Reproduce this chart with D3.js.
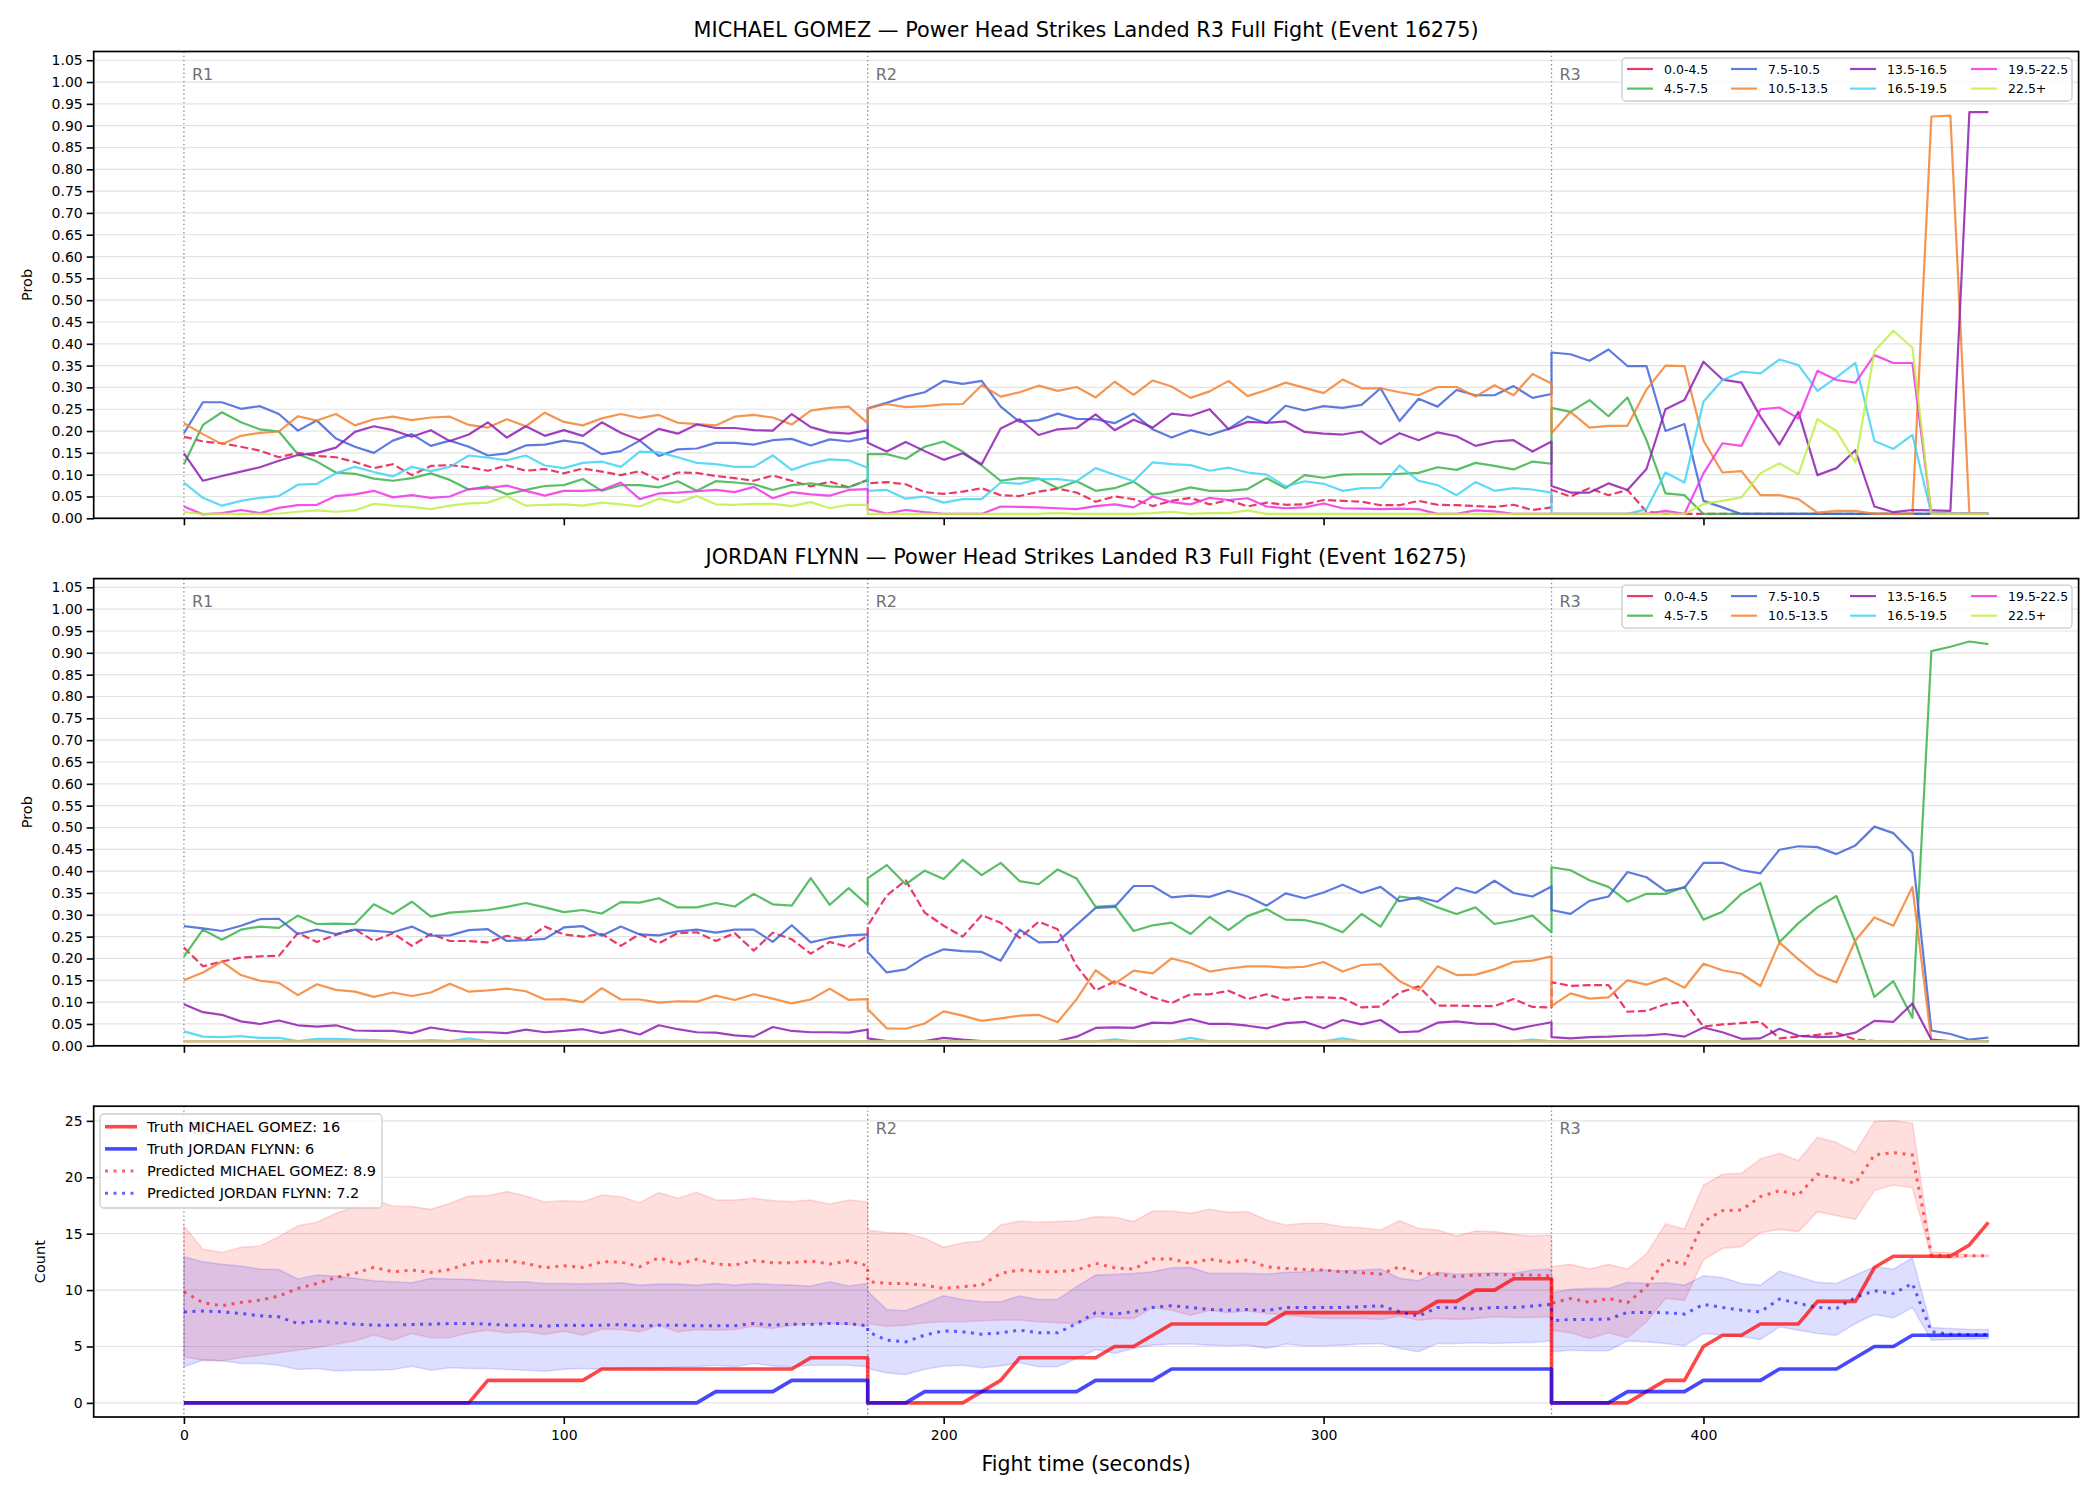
<!DOCTYPE html>
<html><head><meta charset="utf-8">
<script src="https://cdn.jsdelivr.net/npm/d3@7"></script>
<style>body{margin:0;background:#fff} svg{display:block} text{font-family:"DejaVu Sans",sans-serif}</style>
</head><body><svg id="c" width="2100" height="1500"></svg>
<script>
// ---------------- DATA ----------------
const times = [0,5,10,15,20,25,30,35,40,45,50,55,60,65,70,75,80,85,90,95,100,105,110,115,120,125,130,135,140,145,150,155,160,165,170,175,180,
180,185,190,195,200,205,210,215,220,225,230,235,240,245,250,255,260,265,270,275,280,285,290,295,300,305,310,315,320,325,330,335,340,345,350,355,360,
360,365,370,375,380,385,390,395,400,405,410,415,420,425,430,435,440,445,450,455,460,465,470,475];
const roundStarts = [0,180,360];
const roundLabels = ["R1","R2","R3"];
const binLabels = ["0.0-4.5","4.5-7.5","7.5-10.5","10.5-13.5","13.5-16.5","16.5-19.5","19.5-22.5","22.5+"];
const binColors = ["#e6194b","#3cb44b","#4363d8","#f58231","#911eb4","#42d4f4","#f032e6","#bfef45"];
const probTicks = [0,0.05,0.10,0.15,0.20,0.25,0.30,0.35,0.40,0.45,0.50,0.55,0.60,0.65,0.70,0.75,0.80,0.85,0.90,0.95,1.00,1.05];
const countTicks = [0,5,10,15,20,25];
const timeTicks = [0,100,200,300,400];

// MICHAEL GOMEZ bin probabilities
const gomez_0_4_5 = [0.187,0.176,0.172,0.164,0.155,0.140,0.150,0.143,0.140,0.129,0.115,0.124,0.099,0.120,0.122,0.117,0.109,0.121,0.109,0.113,0.103,0.114,0.107,0.099,0.108,0.088,0.105,0.104,0.097,0.092,0.086,0.098,0.086,0.073,0.084,0.071,0.088,
0.080,0.083,0.078,0.060,0.056,0.061,0.069,0.053,0.051,0.061,0.068,0.059,0.038,0.050,0.044,0.028,0.040,0.047,0.032,0.042,0.027,0.036,0.031,0.032,0.042,0.040,0.038,0.030,0.030,0.040,0.031,0.030,0.028,0.026,0.031,0.019,0.025,
0.065,0.050,0.069,0.053,0.065,0.015,0.010,0.010,0.010,0.010,0.010,0.010,0.010,0.010,0.010,0.010,0.010,0.010,0.010,0.010,0.010,0.010,0.010,0.010];
const gomez_4_5_7_5 = [0.124,0.214,0.243,0.220,0.204,0.199,0.147,0.130,0.105,0.102,0.091,0.086,0.092,0.103,0.088,0.066,0.073,0.055,0.065,0.074,0.076,0.090,0.063,0.076,0.076,0.071,0.085,0.063,0.085,0.082,0.078,0.065,0.076,0.080,0.073,0.071,0.088,
0.147,0.147,0.136,0.164,0.176,0.153,0.121,0.086,0.092,0.091,0.069,0.085,0.063,0.069,0.084,0.054,0.060,0.071,0.063,0.063,0.067,0.092,0.069,0.099,0.093,0.100,0.101,0.101,0.102,0.104,0.117,0.111,0.127,0.120,0.112,0.130,0.125,
0.253,0.244,0.271,0.234,0.277,0.179,0.057,0.053,0.010,0.010,0.010,0.010,0.010,0.010,0.010,0.010,0.010,0.010,0.010,0.010,0.010,0.010,0.010,0.010];
const gomez_7_5_10_5 = [0.195,0.266,0.266,0.251,0.257,0.239,0.201,0.224,0.183,0.164,0.150,0.178,0.193,0.166,0.178,0.164,0.144,0.149,0.167,0.169,0.178,0.172,0.147,0.154,0.178,0.143,0.158,0.160,0.173,0.173,0.169,0.179,0.182,0.167,0.181,0.176,0.185,
0.252,0.265,0.279,0.289,0.315,0.308,0.315,0.256,0.221,0.225,0.240,0.228,0.227,0.218,0.240,0.204,0.185,0.202,0.191,0.205,0.233,0.218,0.258,0.247,0.257,0.253,0.260,0.298,0.223,0.274,0.256,0.294,0.282,0.282,0.303,0.276,0.285,
0.380,0.376,0.361,0.387,0.349,0.349,0.200,0.216,0.040,0.025,0.010,0.010,0.010,0.010,0.010,0.010,0.010,0.010,0.010,0.010,0.010,0.010,0.010,0.010];
const gomez_10_5_13_5 = [0.218,0.193,0.170,0.189,0.196,0.199,0.234,0.224,0.239,0.213,0.227,0.233,0.225,0.231,0.233,0.214,0.208,0.227,0.211,0.242,0.221,0.213,0.229,0.239,0.230,0.237,0.219,0.216,0.213,0.233,0.237,0.231,0.215,0.247,0.253,0.256,0.218,
0.252,0.262,0.255,0.257,0.261,0.262,0.305,0.279,0.289,0.304,0.292,0.301,0.277,0.313,0.283,0.316,0.302,0.276,0.291,0.315,0.280,0.294,0.311,0.299,0.287,0.318,0.298,0.298,0.289,0.282,0.301,0.301,0.279,0.305,0.282,0.331,0.309,
0.195,0.244,0.208,0.212,0.212,0.295,0.350,0.349,0.178,0.105,0.108,0.053,0.053,0.044,0.013,0.017,0.017,0.010,0.010,0.010,0.921,0.923,0.010,0.010];
const gomez_13_5_16_5 = [0.149,0.086,0.097,0.107,0.117,0.132,0.145,0.150,0.162,0.198,0.211,0.202,0.187,0.202,0.177,0.192,0.220,0.185,0.211,0.189,0.202,0.189,0.220,0.196,0.179,0.205,0.194,0.215,0.207,0.207,0.202,0.201,0.239,0.209,0.197,0.194,0.202,
0.173,0.153,0.175,0.154,0.134,0.149,0.124,0.206,0.227,0.191,0.204,0.207,0.238,0.202,0.226,0.208,0.240,0.235,0.250,0.204,0.221,0.219,0.222,0.198,0.194,0.192,0.199,0.170,0.195,0.179,0.197,0.188,0.166,0.176,0.179,0.153,0.176,
0.074,0.059,0.059,0.080,0.065,0.113,0.250,0.271,0.359,0.318,0.311,0.233,0.169,0.244,0.099,0.115,0.156,0.027,0.014,0.019,0.018,0.017,0.931,0.931];
const gomez_16_5_19_5 = [0.082,0.047,0.029,0.040,0.047,0.051,0.077,0.079,0.103,0.118,0.106,0.096,0.118,0.108,0.118,0.144,0.139,0.133,0.144,0.121,0.115,0.127,0.130,0.118,0.153,0.151,0.140,0.127,0.124,0.118,0.118,0.144,0.111,0.126,0.135,0.133,0.116,
0.063,0.065,0.045,0.050,0.036,0.044,0.044,0.082,0.079,0.090,0.090,0.085,0.115,0.100,0.085,0.128,0.124,0.122,0.109,0.116,0.105,0.100,0.073,0.085,0.079,0.063,0.069,0.070,0.121,0.086,0.076,0.053,0.083,0.063,0.069,0.066,0.059,
0.010,0.010,0.010,0.010,0.010,0.021,0.105,0.082,0.267,0.317,0.336,0.332,0.364,0.351,0.292,0.323,0.356,0.177,0.159,0.191,0.010,0.010,0.010,0.010];
const gomez_19_5_22_5 = [0.027,0.009,0.012,0.019,0.012,0.024,0.030,0.031,0.051,0.055,0.063,0.048,0.053,0.047,0.050,0.067,0.069,0.075,0.063,0.052,0.063,0.063,0.065,0.082,0.044,0.057,0.059,0.062,0.065,0.060,0.072,0.046,0.060,0.055,0.052,0.065,0.067,
0.021,0.011,0.019,0.014,0.010,0.010,0.010,0.027,0.026,0.025,0.023,0.021,0.028,0.032,0.025,0.050,0.037,0.032,0.047,0.042,0.046,0.027,0.023,0.025,0.034,0.023,0.022,0.021,0.022,0.021,0.010,0.010,0.018,0.016,0.010,0.010,0.010,
0.010,0.010,0.010,0.010,0.010,0.010,0.017,0.010,0.103,0.172,0.166,0.250,0.254,0.229,0.338,0.317,0.311,0.374,0.356,0.356,0.010,0.010,0.010,0.010];
const gomez_22_5_plus = [0.014,0.010,0.010,0.010,0.010,0.011,0.015,0.018,0.015,0.018,0.033,0.029,0.026,0.021,0.029,0.034,0.036,0.051,0.029,0.031,0.032,0.029,0.036,0.032,0.027,0.045,0.036,0.051,0.032,0.031,0.033,0.033,0.028,0.037,0.023,0.031,0.031,
0.010,0.010,0.010,0.010,0.010,0.010,0.010,0.010,0.010,0.010,0.012,0.010,0.010,0.010,0.010,0.012,0.015,0.010,0.012,0.012,0.018,0.010,0.010,0.010,0.010,0.010,0.010,0.010,0.010,0.010,0.010,0.010,0.010,0.010,0.010,0.010,0.010,
0.010,0.010,0.010,0.010,0.010,0.010,0.010,0.010,0.033,0.040,0.048,0.103,0.126,0.101,0.227,0.200,0.128,0.383,0.430,0.391,0.010,0.010,0.010,0.010];

// JORDAN FLYNN bin probabilities
const flynn_0_4_5 = [0.225,0.182,0.193,0.202,0.205,0.206,0.258,0.238,0.254,0.267,0.240,0.258,0.229,0.256,0.240,0.240,0.237,0.252,0.243,0.273,0.255,0.250,0.256,0.229,0.256,0.235,0.258,0.260,0.240,0.258,0.218,0.259,0.244,0.211,0.238,0.226,0.252,
0.275,0.344,0.379,0.305,0.275,0.250,0.299,0.282,0.247,0.284,0.267,0.183,0.127,0.147,0.130,0.111,0.098,0.118,0.118,0.126,0.107,0.118,0.105,0.111,0.111,0.109,0.088,0.090,0.122,0.136,0.092,0.092,0.091,0.091,0.107,0.089,0.088,
0.146,0.137,0.139,0.139,0.078,0.080,0.095,0.101,0.044,0.049,0.052,0.055,0.017,0.021,0.025,0.030,0.014,0.011,0.011,0.011,0.011,0.011,0.011,0.011];
const flynn_4_5_7_5 = [0.204,0.266,0.243,0.266,0.273,0.270,0.298,0.279,0.280,0.279,0.324,0.302,0.330,0.296,0.305,0.308,0.311,0.318,0.327,0.317,0.306,0.311,0.303,0.329,0.328,0.338,0.317,0.317,0.327,0.319,0.348,0.324,0.321,0.384,0.323,0.361,0.322,
0.384,0.414,0.370,0.401,0.382,0.426,0.391,0.419,0.377,0.370,0.404,0.383,0.318,0.321,0.263,0.276,0.282,0.256,0.295,0.265,0.297,0.313,0.289,0.288,0.278,0.260,0.302,0.273,0.342,0.336,0.317,0.302,0.317,0.279,0.287,0.298,0.260,
0.409,0.402,0.379,0.364,0.330,0.348,0.348,0.364,0.289,0.307,0.348,0.373,0.237,0.281,0.317,0.343,0.237,0.112,0.148,0.064,0.904,0.914,0.926,0.920];
const flynn_7_5_10_5 = [0.274,0.269,0.263,0.275,0.290,0.291,0.256,0.266,0.256,0.266,0.263,0.260,0.273,0.252,0.253,0.265,0.267,0.240,0.242,0.245,0.271,0.274,0.252,0.273,0.255,0.253,0.262,0.266,0.259,0.266,0.266,0.238,0.276,0.237,0.247,0.253,0.255,
0.215,0.168,0.175,0.203,0.221,0.217,0.215,0.195,0.266,0.237,0.238,0.277,0.316,0.318,0.366,0.366,0.340,0.344,0.341,0.355,0.342,0.321,0.349,0.338,0.351,0.369,0.350,0.364,0.331,0.340,0.330,0.362,0.350,0.378,0.350,0.342,0.365,
0.311,0.302,0.332,0.342,0.398,0.386,0.355,0.362,0.419,0.419,0.402,0.395,0.449,0.457,0.455,0.439,0.459,0.502,0.487,0.442,0.035,0.027,0.014,0.019];
const flynn_10_5_13_5 = [0.150,0.168,0.193,0.162,0.149,0.144,0.116,0.141,0.128,0.124,0.112,0.122,0.114,0.122,0.142,0.124,0.127,0.131,0.125,0.106,0.107,0.100,0.132,0.106,0.106,0.099,0.102,0.101,0.115,0.105,0.118,0.108,0.097,0.106,0.131,0.105,0.107,
0.084,0.040,0.039,0.051,0.079,0.069,0.057,0.063,0.069,0.071,0.054,0.107,0.173,0.142,0.172,0.166,0.200,0.189,0.170,0.177,0.182,0.182,0.179,0.181,0.192,0.170,0.185,0.187,0.148,0.127,0.182,0.162,0.163,0.175,0.192,0.195,0.205,
0.091,0.120,0.108,0.111,0.150,0.140,0.155,0.133,0.188,0.173,0.165,0.137,0.237,0.198,0.163,0.145,0.241,0.294,0.275,0.364,0.011,0.011,0.011,0.011];
const flynn_13_5_16_5 = [0.095,0.077,0.071,0.056,0.050,0.058,0.047,0.044,0.047,0.035,0.034,0.034,0.029,0.042,0.035,0.031,0.031,0.029,0.037,0.031,0.034,0.038,0.029,0.037,0.026,0.047,0.038,0.031,0.030,0.024,0.021,0.043,0.034,0.031,0.031,0.030,0.037,
0.017,0.011,0.011,0.011,0.018,0.014,0.011,0.011,0.011,0.011,0.011,0.021,0.041,0.042,0.041,0.053,0.052,0.061,0.050,0.050,0.046,0.040,0.052,0.055,0.040,0.059,0.049,0.059,0.031,0.033,0.053,0.056,0.051,0.050,0.037,0.046,0.054,
0.020,0.017,0.020,0.021,0.023,0.024,0.027,0.021,0.042,0.031,0.016,0.017,0.039,0.023,0.020,0.021,0.030,0.057,0.055,0.097,0.014,0.011,0.011,0.011];
const flynn_16_5_19_5 = [0.033,0.021,0.020,0.022,0.018,0.018,0.011,0.016,0.016,0.014,0.013,0.011,0.011,0.013,0.011,0.017,0.010,0.010,0.010,0.010,0.010,0.010,0.010,0.010,0.010,0.010,0.010,0.010,0.010,0.010,0.010,0.010,0.010,0.010,0.010,0.010,0.010,
0.010,0.010,0.010,0.010,0.010,0.010,0.010,0.010,0.010,0.010,0.010,0.010,0.010,0.015,0.010,0.010,0.010,0.018,0.010,0.010,0.010,0.010,0.010,0.010,0.010,0.017,0.010,0.010,0.010,0.010,0.010,0.010,0.010,0.010,0.010,0.014,0.010,
0.010,0.010,0.010,0.010,0.010,0.010,0.010,0.010,0.010,0.010,0.010,0.010,0.010,0.010,0.010,0.010,0.010,0.010,0.010,0.010,0.010,0.010,0.010,0.010];
const flynn_19_5_22_5 = [0.010,0.010,0.010,0.010,0.010,0.010,0.010,0.010,0.010,0.010,0.010,0.010,0.010,0.010,0.010,0.010,0.010,0.010,0.010,0.010,0.010,0.010,0.010,0.010,0.010,0.010,0.010,0.010,0.010,0.010,0.010,0.010,0.010,0.010,0.010,0.010,0.010,
0.010,0.010,0.010,0.010,0.010,0.010,0.010,0.010,0.010,0.010,0.010,0.010,0.010,0.010,0.010,0.010,0.010,0.010,0.010,0.010,0.010,0.010,0.010,0.010,0.010,0.010,0.010,0.010,0.010,0.010,0.010,0.010,0.010,0.010,0.010,0.010,0.010,
0.010,0.010,0.010,0.010,0.010,0.010,0.010,0.010,0.010,0.010,0.010,0.010,0.010,0.010,0.010,0.010,0.010,0.010,0.010,0.010,0.010,0.010,0.010,0.010];
const flynn_22_5_plus = [0.010,0.010,0.010,0.010,0.010,0.010,0.010,0.010,0.010,0.010,0.010,0.010,0.010,0.010,0.010,0.010,0.010,0.010,0.010,0.010,0.010,0.010,0.010,0.010,0.010,0.010,0.010,0.010,0.010,0.010,0.010,0.010,0.010,0.010,0.010,0.010,0.010,
0.010,0.010,0.010,0.010,0.010,0.010,0.010,0.010,0.010,0.010,0.010,0.010,0.010,0.010,0.010,0.010,0.010,0.010,0.010,0.010,0.010,0.010,0.010,0.010,0.010,0.010,0.010,0.010,0.010,0.010,0.010,0.010,0.010,0.010,0.010,0.010,0.010,
0.010,0.010,0.010,0.010,0.010,0.010,0.010,0.010,0.010,0.010,0.010,0.010,0.010,0.010,0.010,0.010,0.010,0.010,0.010,0.010,0.010,0.010,0.010,0.010];

// Counts
const truthGomez = [0,0,0,0,0,0,0,0,0,0,0,0,0,0,0,0,2,2,2,2,2,2,3,3,3,3,3,3,3,3,3,3,3,4,4,4,4,
0,0,0,0,0,0,1,2,4,4,4,4,4,5,5,6,7,7,7,7,7,7,8,8,8,8,8,8,8,8,9,9,10,10,11,11,11,
0,0,0,0,0,1,2,2,5,6,6,7,7,7,9,9,9,12,13,13,13,13,14,16];
const truthFlynn = [0,0,0,0,0,0,0,0,0,0,0,0,0,0,0,0,0,0,0,0,0,0,0,0,0,0,0,0,1,1,1,1,2,2,2,2,2,
0,0,0,1,1,1,1,1,1,1,1,1,2,2,2,2,3,3,3,3,3,3,3,3,3,3,3,3,3,3,3,3,3,3,3,3,3,
0,0,0,0,1,1,1,1,2,2,2,2,3,3,3,3,4,5,5,6,6,6,6,6];
const predGomez = [9.85,8.88,8.61,8.91,9.11,9.47,10.15,10.59,11.12,11.48,12.01,11.63,11.78,11.57,11.83,12.37,12.57,12.60,12.37,11.98,12.16,12.01,12.51,12.49,12.07,12.87,12.31,12.72,12.31,12.22,12.60,12.43,12.43,12.57,12.31,12.60,12.16,
10.74,10.59,10.59,10.44,10.15,10.30,10.44,11.48,11.78,11.63,11.63,11.78,12.37,11.98,11.86,12.75,12.75,12.37,12.75,12.46,12.66,12.07,11.92,11.83,11.78,11.63,11.54,11.42,12.07,11.48,11.42,11.18,11.33,11.39,11.33,11.33,11.27,
8.82,9.26,8.91,9.26,8.88,10.30,12.66,12.31,16.07,17.04,17.10,18.28,18.82,18.43,20.27,19.91,19.47,21.98,22.19,21.98,13.11,13.05,13.05,13.05];
const predGomezHigh = [15.68,13.61,13.34,13.79,13.91,14.73,15.71,16.01,16.80,17.40,17.99,17.46,17.40,17.16,17.69,18.34,18.37,18.73,18.34,17.81,17.93,17.84,18.43,18.28,17.75,18.64,18.14,18.67,17.99,17.99,18.14,17.93,17.84,17.99,17.63,17.99,17.81,
15.33,15.09,15.03,14.59,13.79,14.20,14.35,15.77,16.12,16.01,16.07,16.15,16.51,16.45,16.07,17.01,17.01,16.80,17.16,16.89,16.95,16.21,15.77,15.92,15.92,15.62,15.53,15.33,16.15,15.47,15.33,14.79,15.24,15.18,14.94,14.79,14.88,
12.07,12.28,11.86,12.28,11.86,13.20,15.86,15.41,19.32,20.27,20.36,21.63,22.13,21.48,23.55,23.08,22.22,24.94,25.03,24.79,13.40,13.31,13.11,13.11];
const predGomezLow = [4.08,3.79,3.73,4.02,4.23,4.44,4.67,4.91,5.21,5.50,6.01,5.56,6.15,5.77,5.77,6.21,6.45,6.21,6.30,6.07,6.36,6.01,6.54,6.51,6.30,6.89,6.30,6.51,6.45,6.51,6.80,6.60,6.89,7.04,7.04,6.95,6.80,
7.04,6.80,6.89,7.10,7.19,7.19,7.28,7.34,7.34,7.19,7.10,7.04,7.63,7.49,7.49,8.46,8.22,7.78,8.22,7.99,8.14,7.93,7.78,7.63,7.49,7.49,7.49,7.40,7.69,7.34,7.49,7.40,7.49,7.63,7.57,7.57,7.63,
6.45,6.21,5.71,6.21,5.77,7.19,9.26,9.11,12.66,13.70,13.85,15.09,15.38,15.18,16.95,16.60,16.27,18.82,19.32,19.08,12.90,12.81,12.96,12.96];
const predFlynn = [8.08,8.14,8.08,7.93,7.72,7.63,7.04,7.28,7.10,6.98,6.89,6.89,6.95,6.98,7.04,7.04,6.98,6.89,6.89,6.80,6.89,6.86,6.89,6.95,6.80,6.89,6.89,6.83,6.83,6.83,7.04,6.89,6.98,6.95,7.04,7.04,6.83,
6.30,5.56,5.41,6.01,6.39,6.30,6.09,6.21,6.45,6.21,6.21,7.04,7.99,7.87,8.08,8.46,8.61,8.46,8.28,8.22,8.28,8.17,8.46,8.46,8.46,8.46,8.52,8.61,8.08,7.69,8.46,8.43,8.31,8.46,8.46,8.58,8.73,
7.28,7.40,7.40,7.43,8.02,8.02,7.99,7.87,8.73,8.46,8.22,8.08,9.20,8.82,8.46,8.37,9.35,9.94,9.70,10.59,6.30,6.09,6.07,6.07];
const predFlynnHigh = [12.96,12.51,12.28,12.13,11.86,11.83,10.98,11.33,11.24,11.04,10.83,10.74,10.65,11.04,10.98,10.95,10.83,10.74,10.74,10.59,10.59,10.56,10.59,10.65,10.44,10.53,10.53,10.44,10.59,10.44,10.59,10.50,10.44,10.36,10.74,10.36,10.59,
9.90,8.28,8.17,8.82,9.50,9.17,8.96,8.96,9.47,9.17,9.17,10.30,11.33,11.39,11.48,11.63,11.98,12.01,11.48,11.48,11.48,11.42,11.57,11.63,11.78,11.72,11.78,11.86,11.04,10.83,11.57,11.42,11.48,11.54,11.48,11.78,11.86,
9.76,10.06,10.15,10.15,10.68,10.59,10.65,10.44,11.27,11.12,10.59,10.44,11.69,11.18,10.68,10.59,11.33,12.07,11.86,12.87,6.69,6.60,6.51,6.51];
const predFlynnLow = [3.20,3.79,3.73,3.49,3.49,3.34,2.96,3.05,2.84,2.90,2.90,2.96,3.25,2.90,3.11,3.05,3.05,2.96,2.90,2.81,2.99,3.05,2.99,3.05,3.11,3.05,3.20,3.20,3.34,3.20,3.49,3.28,3.20,3.34,3.34,3.34,3.20,
3.05,2.66,2.51,2.99,3.25,3.34,3.11,3.28,3.55,3.20,3.20,3.93,4.73,4.38,4.82,5.12,5.21,5.21,5.12,5.06,5.12,4.82,5.21,5.06,5.06,5.12,5.21,5.27,4.82,4.53,5.27,5.27,5.33,5.27,5.33,5.36,5.50,
4.53,4.67,4.62,4.62,5.50,5.41,5.27,5.06,6.15,6.01,5.86,5.62,6.75,6.45,6.15,6.01,7.04,7.84,7.54,8.46,5.56,5.62,5.65,5.71];

const gomezBins = [gomez_0_4_5,gomez_4_5_7_5,gomez_7_5_10_5,gomez_10_5_13_5,gomez_13_5_16_5,gomez_16_5_19_5,gomez_19_5_22_5,gomez_22_5_plus];
const flynnBins = [flynn_0_4_5,flynn_4_5_7_5,flynn_7_5_10_5,flynn_10_5_13_5,flynn_13_5_16_5,flynn_16_5_19_5,flynn_19_5_22_5,flynn_22_5_plus];

// ---------------- DRAW ----------------
const svg = d3.select("#c");
svg.append("rect").attr("width",2100).attr("height",1500).attr("fill","#fff");
const L = 93.7, R = 2078.6;
const x = d3.scaleLinear().domain([-23.75, 498.75]).range([L, R]);
const FONT = '"DejaVu Sans", sans-serif';

function frame(top, bot, y, yTicks, fmt, showXLabels, ylabel, ylabelX, idx) {
  const g = svg.append("g");
  g.selectAll("line.grid").data(yTicks).enter().append("line")
    .attr("x1", L).attr("x2", R).attr("y1", d => y(d)).attr("y2", d => y(d))
    .attr("stroke", "#e3e3e3").attr("stroke-width", 1.2);
  svg.append("clipPath").attr("id", "clip" + idx).append("rect")
    .attr("x", L).attr("y", top).attr("width", R - L).attr("height", bot - top);
  const ya = svg.append("g").attr("transform", `translate(${L},0)`)
    .call(d3.axisLeft(y).tickValues(yTicks).tickFormat(fmt).tickSize(7).tickPadding(4));
  ya.select(".domain").remove();
  ya.selectAll(".tick line").attr("stroke", "#000").attr("stroke-width", 1.6);
  ya.selectAll(".tick text").attr("font-size", 14).attr("font-family", FONT).attr("fill", "#000");
  const xa = svg.append("g").attr("transform", `translate(0,${bot})`)
    .call(d3.axisBottom(x).tickValues(timeTicks).tickFormat(showXLabels ? d3.format("d") : "").tickSize(7).tickPadding(6));
  xa.select(".domain").remove();
  xa.selectAll(".tick line").attr("stroke", "#000").attr("stroke-width", 1.6);
  xa.selectAll(".tick text").attr("font-size", 14).attr("font-family", FONT).attr("fill", "#000");
  svg.append("text").attr("transform", `translate(${ylabelX},${(top + bot) / 2}) rotate(-90)`)
    .attr("text-anchor", "middle").attr("dominant-baseline", "central")
    .attr("font-size", 14.5).attr("font-family", FONT).text(ylabel);
  roundStarts.forEach((r, i) => {
    g.append("line").attr("x1", x(r)).attr("x2", x(r)).attr("y1", top).attr("y2", bot)
      .attr("stroke", "#8a8a8a").attr("stroke-width", 1.3).attr("stroke-dasharray", "1.4,2.8");
    g.append("text").attr("x", x(r) + 8).attr("y", top + 28).attr("font-size", 16)
      .attr("font-family", FONT).attr("fill", "#707070").text(roundLabels[i]);
  });
  return g;
}
function border(top, bot) {
  svg.append("rect").attr("x", L).attr("y", top).attr("width", R - L).attr("height", bot - top)
    .attr("fill", "none").attr("stroke", "#000").attr("stroke-width", 1.7);
}

function probPanel(top, bot, bins, title, idx) {
  const y = d3.scaleLinear().domain([0, 1.07]).range([bot, top]);
  frame(top, bot, y, probTicks, d3.format(".2f"), false, "Prob", 27, idx);
  svg.append("text").attr("x", (L + R) / 2).attr("y", top - 14.5).attr("text-anchor", "middle")
    .attr("font-size", 20.8).attr("font-family", FONT).attr("fill", "#000").text(title);
  const lg = svg.append("g").attr("clip-path", `url(#clip${idx})`);
  const line = d3.line().x((d, i) => x(times[i])).y(d => y(d));
  bins.forEach((vals, k) => {
    lg.append("path").attr("d", line(vals)).attr("fill", "none")
      .attr("stroke", binColors[k]).attr("stroke-opacity", 0.85).attr("stroke-width", 2.2)
      .attr("stroke-linejoin", "round")
      .attr("stroke-dasharray", k === 0 ? "8,3.5" : null);
  });
  const leg = svg.append("g");
  leg.append("rect").attr("x", 1622).attr("y", top + 6.5).attr("width", 450).attr("height", 43)
    .attr("rx", 4).attr("fill", "#fff").attr("fill-opacity", 0.8).attr("stroke", "#cccccc").attr("stroke-width", 1.3);
  const colX = [1627, 1731, 1850, 1971];
  const rowY = [top + 17.5, top + 37.1];
  binLabels.forEach((lab, k) => {
    const cx = colX[Math.floor(k / 2)], cy = rowY[k % 2];
    leg.append("line").attr("x1", cx).attr("x2", cx + 26).attr("y1", cy).attr("y2", cy)
      .attr("stroke", binColors[k]).attr("stroke-opacity", 0.85).attr("stroke-width", 2.2);
    leg.append("text").attr("x", cx + 37).attr("y", cy).attr("dominant-baseline", "central")
      .attr("font-size", 12.5).attr("font-family", FONT).attr("fill", "#000").text(lab);
  });
  border(top, bot);
}

probPanel(51.5, 518.3, gomezBins, "MICHAEL GOMEZ \u2014 Power Head Strikes Landed R3 Full Fight (Event 16275)", 0);
probPanel(578.6, 1045.8, flynnBins, "JORDAN FLYNN \u2014 Power Head Strikes Landed R3 Full Fight (Event 16275)", 1);

(function () {
  const top = 1106.2, bot = 1417;
  const y = d3.scaleLinear().domain([-1.25, 26.3]).range([bot, top]);
  frame(top, bot, y, countTicks, d3.format("d"), true, "Count", 40, 2);
  const g = svg.append("g").attr("clip-path", "url(#clip2)");
  const area = (lo, hi) => d3.area().x((d, i) => x(times[i])).y0((d, i) => y(lo[i])).y1((d, i) => y(hi[i]))(times);
  const line = d3.line().x((d, i) => x(times[i])).y(d => y(d));
  g.append("path").attr("d", area(predGomezLow, predGomezHigh)).attr("fill", "#ff0000").attr("fill-opacity", 0.13)
    .attr("stroke", "#ff0000").attr("stroke-opacity", 0.13).attr("stroke-width", 1.6);
  g.append("path").attr("d", area(predFlynnLow, predFlynnHigh)).attr("fill", "#0000ff").attr("fill-opacity", 0.13)
    .attr("stroke", "#0000ff").attr("stroke-opacity", 0.13).attr("stroke-width", 1.6);
  g.append("path").attr("d", line(truthGomez)).attr("fill", "none").attr("stroke", "#ff0000")
    .attr("stroke-opacity", 0.72).attr("stroke-width", 3.6).attr("stroke-linejoin", "round");
  g.append("path").attr("d", line(truthFlynn)).attr("fill", "none").attr("stroke", "#0000ff")
    .attr("stroke-opacity", 0.72).attr("stroke-width", 3.6).attr("stroke-linejoin", "round");
  g.append("path").attr("d", line(predGomez)).attr("fill", "none").attr("stroke", "#ff0000")
    .attr("stroke-opacity", 0.6).attr("stroke-width", 3).attr("stroke-dasharray", "3,5.5");
  g.append("path").attr("d", line(predFlynn)).attr("fill", "none").attr("stroke", "#0000ff")
    .attr("stroke-opacity", 0.6).attr("stroke-width", 3).attr("stroke-dasharray", "3,5.5");
  const leg = svg.append("g");
  leg.append("rect").attr("x", 100).attr("y", 1114).attr("width", 282).attr("height", 94)
    .attr("rx", 4).attr("fill", "#fff").attr("fill-opacity", 0.8).attr("stroke", "#cccccc").attr("stroke-width", 1.3);
  const items = [
    {lab: "Truth MICHAEL GOMEZ: 16", c: "#ff0000", dash: null, w: 3.6, o: 0.72},
    {lab: "Truth JORDAN FLYNN: 6", c: "#0000ff", dash: null, w: 3.6, o: 0.72},
    {lab: "Predicted MICHAEL GOMEZ: 8.9", c: "#ff0000", dash: "3,5.5", w: 3, o: 0.6},
    {lab: "Predicted JORDAN FLYNN: 7.2", c: "#0000ff", dash: "3,5.5", w: 3, o: 0.6}
  ];
  const rows = [1126.7, 1148.9, 1171.1, 1193.3];
  items.forEach((it, i) => {
    leg.append("line").attr("x1", 105).attr("x2", 137).attr("y1", rows[i]).attr("y2", rows[i])
      .attr("stroke", it.c).attr("stroke-opacity", it.o).attr("stroke-width", it.w).attr("stroke-dasharray", it.dash);
    leg.append("text").attr("x", 147).attr("y", rows[i]).attr("dominant-baseline", "central")
      .attr("font-size", 14.5).attr("font-family", FONT).attr("fill", "#000").text(it.lab);
  });
  border(top, bot);
  svg.append("text").attr("x", (L + R) / 2).attr("y", 1471).attr("text-anchor", "middle")
    .attr("font-size", 20.5).attr("font-family", FONT).attr("fill", "#000").text("Fight time (seconds)");
})();
</script></body></html>
